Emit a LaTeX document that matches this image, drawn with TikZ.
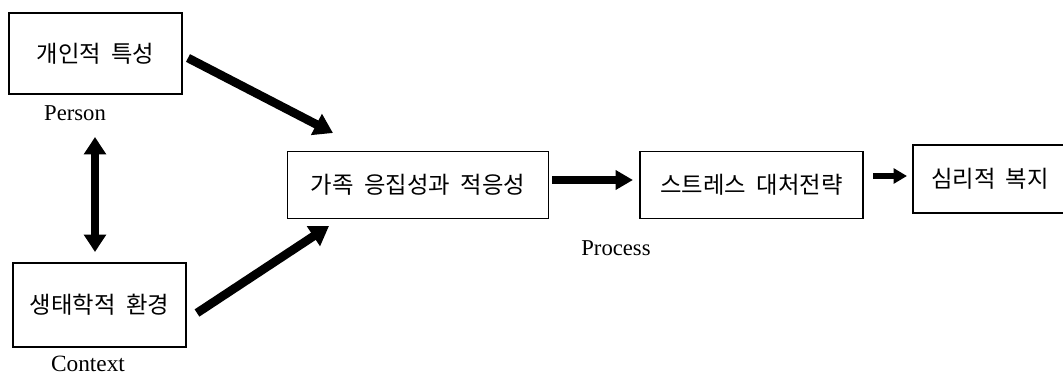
\documentclass[tikz,border=0pt]{standalone}
\usepackage{fontspec}
\setmainfont{Liberation Serif}
\newfontfamily\kr[WordSpace=2.0]{Noto Sans CJK KR}
\usetikzlibrary{arrows.meta}
\begin{document}
\begin{tikzpicture}[x=0.75pt,y=-0.75pt,
  box/.style={draw, line width=1.1pt, inner sep=0pt, font=\kr\fontsize{17.5}{19}\selectfont},
  lbl/.style={font=\fontsize{17}{19}\selectfont, inner sep=0pt},
  bigarrow/.style={line width=6.5pt, -{Triangle[length=14pt,width=17pt]}},
  midarrow/.style={line width=5.5pt, -{Triangle[length=13pt,width=14pt]}},
  smallarrow/.style={line width=4.8pt, -{Triangle[length=10pt,width=11pt]}},
  dblarrow/.style={line width=6.5pt, {Triangle[length=13pt,width=16pt]}-{Triangle[length=13pt,width=16pt]}},
]
\useasboundingbox (0,0) rectangle (1063,377);
\clip (0,0) rectangle (1063,377);

% boxes
\node[box, minimum width=173*0.75pt, minimum height=81*0.75pt] (b1) at (95.5,53.5) {개인적 특성};
\node[box, minimum width=173*0.75pt, minimum height=84*0.75pt] (b2) at (99.5,305) {생태학적 환경};
\node[box, minimum width=261*0.75pt, minimum height=67*0.75pt] (b3) at (418,185) {가족 응집성과 적응성};
\node[box, minimum width=223*0.75pt, minimum height=67*0.75pt] (b4) at (751.5,185) {스트레스 대처전략};
\node[box, minimum width=154*0.75pt, minimum height=68*0.75pt] (b5) at (990,179) {심리적 복지};

% labels
\node[lbl] (person) at (75,113) {Person};
\node[lbl, font=\fontsize{17.5}{19}\selectfont, anchor=base] (context) at (88,371) {Context};
\node[lbl] (process) at (616,248) {Process};

% connector end points
\coordinate (a1s) at (188,58);
\coordinate (a1e) at (333,133);
\coordinate (a2s) at (197,313);
\coordinate (a2e) at (329,226);
\coordinate (v1) at (95,137);
\coordinate (v2) at (95,252);
\coordinate (p1) at (552,180);
\coordinate (p2) at (633,180);
\coordinate (q1) at (873,176);
\coordinate (q2) at (907,176);

% connectors
\draw[bigarrow] (a1s) -- (a1e);
\draw[bigarrow] (a2s) -- (a2e);
\draw[dblarrow] (v1) -- (v2);
\draw[midarrow] (p1) -- (p2);
\draw[smallarrow] (q1) -- (q2);
\end{tikzpicture}
\end{document}
